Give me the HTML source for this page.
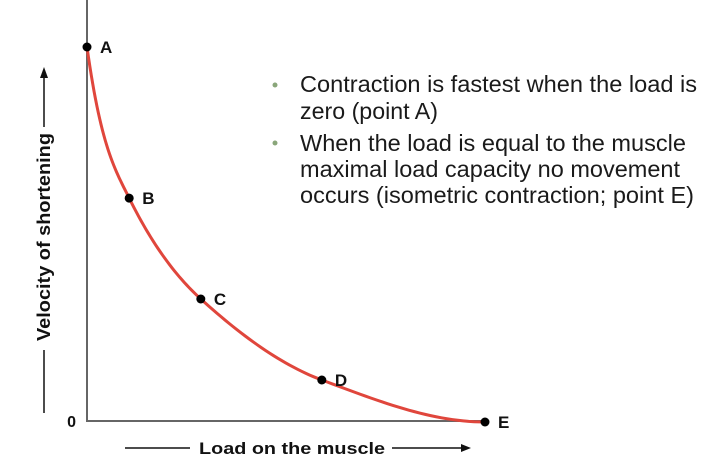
<!DOCTYPE html>
<html><head><meta charset="utf-8"><style>
html,body{margin:0;padding:0;background:#fff;width:711px;height:468px;overflow:hidden}
svg{display:block}
text{font-family:"Liberation Sans",Arial,sans-serif}
</style></head><body>
<svg id="chart" width="711" height="468">
  <line x1="87" y1="0" x2="87" y2="422" stroke="#666" stroke-width="2"/>
  <line x1="86" y1="421" x2="488" y2="421" stroke="#666" stroke-width="2"/>
  <text x="76" y="427" font-size="16" font-weight="bold" fill="#111" text-anchor="end">0</text>
  <g>
    <line x1="44" y1="413" x2="44" y2="350" stroke="#111" stroke-width="1.5"/>
    <line x1="44" y1="127" x2="44" y2="76" stroke="#111" stroke-width="1.5"/>
    <polygon points="44,67 40,78 48,78" fill="#111"/>
    <text transform="translate(50,237) rotate(-90)" font-size="18" font-weight="bold" fill="#111" text-anchor="middle" textLength="208" lengthAdjust="spacingAndGlyphs">Velocity of shortening</text>
  </g>
  <g>
    <line x1="125" y1="448" x2="190" y2="448" stroke="#111" stroke-width="1.5"/>
    <line x1="392" y1="448" x2="462" y2="448" stroke="#111" stroke-width="1.5"/>
    <polygon points="471,448 461,444 461,452" fill="#111"/>
    <text x="199" y="454" font-size="17" font-weight="bold" fill="#111" textLength="186" lengthAdjust="spacingAndGlyphs">Load on the muscle</text>
  </g>
  <path id="curve" fill="none" stroke="#e0463c" stroke-width="3"/>
  <g id="pts"></g>
  <g font-size="23" fill="#1a1a1a">
    <circle cx="275" cy="85" r="2.5" fill="#8aa67a"/>
    <text x="300" y="92" textLength="397" lengthAdjust="spacingAndGlyphs">Contraction is fastest when the load is</text>
    <text x="300" y="119" textLength="138" lengthAdjust="spacingAndGlyphs">zero (point A)</text>
    <circle cx="275" cy="143" r="2.5" fill="#8aa67a"/>
    <text x="300" y="151" textLength="386" lengthAdjust="spacingAndGlyphs">When the load is equal to the muscle</text>
    <text x="300" y="177" textLength="380" lengthAdjust="spacingAndGlyphs">maximal load capacity no movement</text>
    <text x="300" y="203" textLength="394" lengthAdjust="spacingAndGlyphs">occurs (isometric contraction; point E)</text>
  </g>
</svg>
<script>
const labels = ["A","B","C","D","E"];
const loads = [0, 10.6, 28.6, 59, 100];
const velocities = [100, 59.7, 32.8, 11.2, 0];
const xs = v => 87 + v / 100 * 398;
const ys = v => 422 - v / 100 * 375;
// Hermite interpolation in data space with harmonic-mean tangents
const n = loads.length;
const sec = [];
for (let i=0;i<n-1;i++) sec.push((velocities[i+1]-velocities[i])/(loads[i+1]-loads[i]));
const m = [];
m[0] = sec[0]*2;
for (let i=1;i<n-1;i++){ const a=sec[i-1], b=sec[i]; m[i] = (a*b>0) ? 2*a*b/(a+b) : 0; }
m[n-1] = 0;
let d = "";
for (let i=0;i<n-1;i++){
  const h = loads[i+1]-loads[i];
  for (let k=0;k<=30;k++){
    if (i>0 && k===0) continue;
    const t=k/30, t2=t*t, t3=t2*t;
    const y = (2*t3-3*t2+1)*velocities[i] + (t3-2*t2+t)*h*m[i] + (-2*t3+3*t2)*velocities[i+1] + (t3-t2)*h*m[i+1];
    const x = loads[i] + t*h;
    d += (d ? " L" : "M") + xs(x).toFixed(2) + "," + ys(y).toFixed(2);
  }
}
document.getElementById('curve').setAttribute('d', d);
const g = document.getElementById('pts');
const ns = "http://www.w3.org/2000/svg";
loads.forEach((l,i)=>{
  const px = xs(l), py = ys(velocities[i]);
  const c = document.createElementNS(ns,'circle');
  c.setAttribute('cx',px); c.setAttribute('cy',py); c.setAttribute('r',4.5); c.setAttribute('fill','#000');
  
  
  g.appendChild(c);
  const t = document.createElementNS(ns,'text');
  t.setAttribute('x',px+13); t.setAttribute('y',py+6);
  t.setAttribute('font-size','17'); t.setAttribute('font-weight','bold'); t.setAttribute('fill','#111');
  t.textContent = labels[i];
  
  
  g.appendChild(t);
});
</script>
</body></html>
